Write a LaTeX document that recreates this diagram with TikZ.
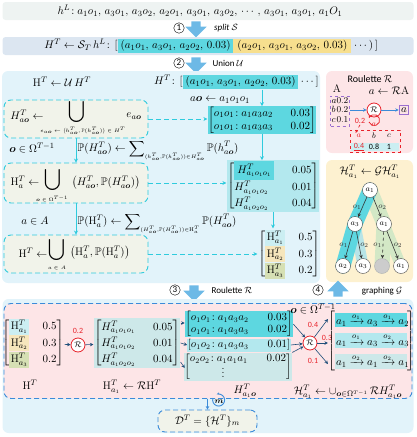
\documentclass[tikz,border=0pt]{standalone}
\usepackage{amsmath,amssymb}
\usepackage{fontspec}
\newfontfamily\calib{Carlito}
\usepackage{tikz}
\usetikzlibrary{arrows.meta, positioning, shapes.arrows, calc}

\definecolor{topgray}{HTML}{EEF3F2}
\definecolor{rowblue}{HTML}{DCE6F1}
\definecolor{secblue}{HTML}{E2F3FA}
\definecolor{dcyan}{HTML}{2FCBDD}
\definecolor{boxfill}{HTML}{F1F3EA}
\definecolor{hcyan}{HTML}{5DD7E0}
\definecolor{hcyanl}{HTML}{B3E8EE}
\definecolor{hyellow}{HTML}{F7DF8E}
\definecolor{hteal}{HTML}{CDE8E9}
\definecolor{hya}{HTML}{F6E6BC}
\definecolor{hol}{HTML}{D6E0B4}
\definecolor{hcl}{HTML}{CBEEF2}
\definecolor{rpink}{HTML}{FDE5E7}
\definecolor{ryellow}{HTML}{FDF1D0}
\definecolor{barrow}{HTML}{6DB9E6}
\definecolor{navy}{HTML}{1F4E79}
\definecolor{rred}{HTML}{E8232B}
\definecolor{purp}{HTML}{9B6FD0}
\definecolor{pblue}{HTML}{3B8BD9}
\definecolor{bandg}{HTML}{D3E8C6}

\newcommand{\vo}{\boldsymbol{o}}
\newcommand{\Pb}{\mathbb{P}}

\tikzstyle{rowbox} = [rectangle, rounded corners=3pt, minimum width=411pt, minimum height=18pt]
\tikzstyle{section} = [rectangle, rounded corners=6pt, fill=secblue]
\tikzstyle{dbox} = [rectangle, rounded corners=7pt, draw=dcyan, dashed, dash pattern=on 5pt off 3pt,
  line width=0.9pt, fill=boxfill]
\tikzstyle{bigarrow} = [single arrow, fill=barrow, minimum height=16pt, inner sep=4.5pt,
  single arrow head extend=6pt]
\tikzstyle{stepnum} = [circle, draw, inner sep=0pt, minimum size=10.5pt, font=\calib\small]
\tikzstyle{steplab} = [font=\calib\small]
\tikzstyle{tight} = [inner xsep=2.5pt, inner ysep=1.5pt, text height=8.5pt, text depth=3.2pt]
\tikzstyle{carrow} = [-{Stealth[length=4pt,width=4pt]}, dcyan, line width=0.8pt]
\tikzstyle{cdarrow} = [-{Stealth[length=4pt,width=4pt]}, dcyan, line width=0.8pt, dashed,
  dash pattern=on 5pt off 3pt]
\tikzstyle{narrow} = [-{Stealth[length=3.5pt,width=3.5pt]}, navy, line width=0.6pt]
\tikzstyle{barr} = [-{Stealth[length=3.5pt,width=3.5pt]}, pblue, line width=0.8pt]
\tikzstyle{rcirc} = [circle, draw=rred, line width=0.8pt, fill=white, inner sep=0pt,
  minimum size=14pt, font=\footnotesize]
\tikzstyle{tnode} = [circle, draw=black!70, fill=white, inner sep=0pt, minimum size=15pt,
  font=\footnotesize]
\tikzstyle{elab} = [font=\footnotesize, inner sep=1pt]
\tikzstyle{redlab} = [text=rred, font=\calib\footnotesize, inner sep=1pt]
\tikzstyle{sub} = [font=\tiny, inner sep=0pt]
\tikzstyle{bigop} = [font=\fontsize{15}{17}\selectfont, inner sep=0pt]

\begin{document}
\begin{tikzpicture}[x=1pt, y=-1pt, font=\fontsize{11}{13}\selectfont]
\useasboundingbox (0,0) rectangle (416,437);

% input sequence and split
\node[rowbox, fill=topgray] (rowL) at (208,11) {};
\node (hL) at (200,11)
  {$h^L\!: a_1o_1,\, a_3o_1,\, a_3o_2,\, a_2o_1,\, a_3o_1,\, a_3o_2,\, \cdots,\, a_3o_1,\, a_3o_1,\, a_1O_1$};
\node[bigarrow, rotate=-90] (ar1) at (196,27) {};
\node[stepnum] (s1) at (179,28) {1};
\node[steplab] (l1) at (226,28) {\itshape split $\mathcal{S}$};

\node[rowbox, fill=rowblue] (rowT) at (208,46) {};
\node[tight, anchor=east, inner xsep=0pt] (tA) at (118,46) {$H^T\leftarrow\mathcal{S}_T\, h^L\!:\, [$};
\node[tight, right=0pt of tA, fill=hcyan] (tB) {$(a_1o_1,\, a_3o_1,\, a_2o_2,\, 0.03)$};
\node[tight, right=0pt of tB, fill=hyellow, inner xsep=4pt] (tC) {$(a_2o_1,\, a_3o_1,\, a_3o_2,\, 0.03)$};
\node[tight, right=0pt of tC] (tD) {$\cdots)\,]$};
\node[bigarrow, rotate=-90] (ar2) at (196,63) {};
\node[stepnum] (s2) at (179,63) {2};
\node[steplab] (l2) at (228,63) {Union $\mathcal{U}$};

% union stage
\node[section, minimum width=318pt, minimum height=212pt] (sec2) at (161,177) {};
\node (HU) at (62,82) {$\mathrm{H}^T\leftarrow\mathcal{U}\,H^T$};
\node[tight, anchor=east, inner xsep=0pt] (hA) at (183,82) {$H^T\!:\, [$};
\node[tight, right=0pt of hA, fill=hcyan] (hB) {$(a_1o_1,\, a_3o_1,\, a_2o_2,\, 0.03)$};
\node[tight, right=0pt of hB] (hC) {$\cdots\,]$};
\node (aoeq) at (220,100) {$a\vo\leftarrow a_1o_1o_1$};

\node[dbox, minimum width=144pt, minimum height=38pt] (box1) at (76,119) {};
\node (b1a) at (27,116) {$H^T_{a\vo}\leftarrow$};
\node[bigop] (b1b) at (77,112) {$\displaystyle\bigcup$};
\node[sub] (b1c) at (83,131) {$e_{a\vo}\leftarrow\big(h^T_{a\vo},\Pb(h^T_{a\vo})\big)\in H^T$};
\node (b1d) at (134,116) {$e_{a\vo}$};

\node (oin) at (32,148) {$\vo\in\Omega^{T-1}$};
\node[anchor=west] (sum1) at (74,150) {$\Pb(H^T_{a\vo})\leftarrow\displaystyle\sum\nolimits_{\scriptscriptstyle(h^T_{a\vo},\Pb(h^T_{a\vo}))\in H^T_{a\vo}}\Pb(h^T_{a\vo})$};

\node[dbox, minimum width=144pt, minimum height=40pt] (box2) at (76,183) {};
\node (b2a) at (25,182) {$\mathrm{H}^T_a\leftarrow$};
\node[bigop] (b2b) at (53,180) {$\displaystyle\bigcup$};
\node[sub] (b2c) at (52,199) {$\vo\in\Omega^{T-1}$};
\node (b2d) at (106,183) {$\big(H^T_{a\vo},\Pb(H^T_{a\vo})\big)$};

\node (ain) at (35,221) {$a\in A$};
\node[anchor=west] (sum2) at (74,223) {$\Pb(\mathrm{H}^T_a)\leftarrow\displaystyle\sum\nolimits_{\scriptscriptstyle(H^T_{a\vo},\Pb(H^T_{a\vo}))\in \mathrm{H}^T_a}\Pb(H^T_{a\vo})$};

\node[dbox, minimum width=144pt, minimum height=38pt] (box3) at (76,254) {};
\node (b3a) at (33,253) {$\mathrm{H}^T\leftarrow$};
\node[bigop] (b3b) at (57,250) {$\displaystyle\bigcup$};
\node[sub] (b3c) at (57,268) {$a\in A$};
\node (b3d) at (100,253) {$\big(\mathrm{H}^T_a,\Pb(\mathrm{H}^T_a)\big)$};

\node[fill=hcyan, inner sep=0.5pt] (m1) at (262,120)
  {$\left[\begin{array}{@{}l@{\hspace{1.6em}}r@{}} o_1o_1\!: a_1a_3a_2 & 0.03\\ o_1o_1\!: a_1a_3a_3 & 0.02\end{array}\right]$};
\node[fill=hcyanl, inner sep=0.5pt] (m2) at (273,186)
  {\renewcommand{\arraystretch}{1.2}$\left[\begin{array}{@{}l@{\hspace{1.6em}}r@{}}
   \colorbox{hcyan}{$H^T_{a_1o_1o_1}$} & 0.05\\ H^T_{a_1o_1o_2} & 0.01\\ H^T_{a_1o_2o_2} & 0.04\end{array}\right]$};
\node[inner sep=0.5pt] (m3) at (289,254)
  {\setlength{\fboxsep}{1.5pt}\renewcommand{\arraystretch}{1.25}$\left[\begin{array}{@{}l@{\hspace{1.2em}}r@{}}
   \colorbox{hcl}{$\mathrm{H}^T_{a_1}$} & 0.5\\ \colorbox{hya}{$\mathrm{H}^T_{a_2}$} & 0.3\\
   \colorbox{hol}{$\mathrm{H}^T_{a_3}$} & 0.2\end{array}\right]$};

\draw[carrow] (m1.north |- hB.south) -- (m1.north);
\draw[carrow] (m1.south) -- (m1.south |- m2.north);
\draw[carrow] (m2.south) -- (m2.south |- m3.north);
\draw[carrow] (box1.south) -- (box2.north);
\draw[carrow] (box2.south) -- (box3.north);
\draw[cdarrow] (box1.east) -- (box1.east -| m1.west);
\draw[cdarrow] (box2.east) -- (box2.east -| m2.west);
\draw[cdarrow] (box3.east) -- (box3.east -| m3.west);

% roulette panel
\node[section, fill=rpink, minimum width=87pt, minimum height=82pt] (rpan) at (369.5,112) {};
\node[font=\calib] (rtitle) at (370,79) {Roulette $\mathcal{R}$};
\node (rA) at (337,89) {$\mathrm{A}$};
\node (rR) at (389,91) {$a\leftarrow\mathcal{R}\mathrm{A}$};
\node[draw=purp, dashed, line width=0.8pt, inner sep=1pt, font=\small] (rlist) at (340,111)
  {\renewcommand{\arraystretch}{0.85}$\begin{array}{@{}l@{}l@{}} a&0.2\\ b&0.2\\ c&0.1\end{array}$};
\node[rcirc] (rc) at (374,110) {$\mathcal{R}$};
\node[draw=purp, line width=0.8pt, inner sep=2pt] (ra) at (404,110) {$a$};
\draw[barr] (rlist.east |- rc) -- (rc);
\draw[barr] (rc) -- (ra);
\node[redlab] (r02) at (360,121) {0.2};
\node[text=rred, font=\footnotesize, inner sep=0.5pt] (rloop) at (374,125) {$a$};
\draw[rred, line width=0.8pt, -{Stealth[length=3pt]}] (369,122) arc[start angle=160, end angle=-160, radius=5.5];
\node[rectangle, draw=rred, dashed, line width=0.8pt, minimum width=50pt, minimum height=22pt] (rtab) at (375,141) {};
\fill[hcl] (351,143) rectangle (399,151);
\node[text=rred, font=\footnotesize, inner sep=1pt] (ta) at (359,136) {$a$};
\node[font=\footnotesize, inner sep=1pt] (tb) at (374,136) {$b$};
\node[font=\footnotesize, inner sep=1pt] (tc) at (389,136) {$c$};
\node[redlab] (v1) at (359,147) {\underline{0.4}};
\node[font=\calib\footnotesize, inner sep=1pt] (v2) at (374,147) {0.8};
\node[font=\calib\footnotesize, inner sep=1pt] (v3) at (389,147) {1};
\draw[rred, dashed, line width=0.7pt, -{Stealth[length=3pt]}] (r02.south) -- (ta.north west);

% graphing panel
\node[section, fill=ryellow, minimum width=87pt, minimum height=122pt] (gpan) at (369.5,221) {};
\node (gt) at (370,172) {$\mathcal{H}^T_{a_1}\leftarrow\mathcal{G}\mathcal{H}^T_{a_1}$};
\coordinate (groot) at (370,190);
\coordinate (gl) at (355,224);
\coordinate (gr) at (384,224);
\draw[bandg, line width=15pt, line cap=round, line join=round] (groot) -- (gr) -- (382,266);
\draw[bandg, line width=11pt, line cap=round] (gr) -- (401,266);
\draw[hteal!80!hcyan, line width=11pt, line cap=round] (gl) -- (363,266);
\draw[hcyan, line width=15pt, line cap=round, line join=round] (groot) -- (gl) -- (343,266);
\node[tnode] (n0) at (groot) {$a_1$};
\node[tnode] (n1) at (gl) {$a_3$};
\node[tnode] (n2) at (gr) {$a_1$};
\node[tnode] (n3) at (343,266) {$a_2$};
\node[tnode] (n4) at (363,266) {$a_3$};
\node[tnode, fill=black!20, draw=black!30] (n5) at (382,266) {};
\node[tnode] (n6) at (401,266) {$a_1$};
\draw[narrow, black!80] (n0) -- node[elab, left] {$o_1$} (n1);
\draw[narrow, black!80] (n0) -- node[elab, right] {$o_2$} (n2);
\draw[narrow, black!80] (n1) -- node[elab, left] {$o_1$} (n3);
\draw[narrow, black!80] (n1) -- node[elab, right] {$o_2$} (n4);
\draw[narrow, black!80, dashed] (n2) -- node[elab, left] {$o_1$} (n5);
\draw[narrow, black!80] (n2) -- node[elab, right] {$o_2$} (n6);

% roulette and graphing stages
\node[bigarrow, rotate=-90] (ar3) at (194,291) {};
\node[stepnum] (s3) at (175,290) {3};
\node[steplab] (l3) at (232,290) {Roulette $\mathcal{R}$};
\node[bigarrow, rotate=90] (ar4) at (338,291) {};
\node[stepnum] (s4) at (318,290) {4};
\node[steplab] (l4) at (382,291) {graphing $\mathcal{G}$};

\node[section, minimum width=411pt, minimum height=134pt] (sec3) at (208,366) {};
\node[rectangle, rounded corners=7pt, draw=pblue, dashed, dash pattern=on 5pt off 3pt, line width=0.9pt,
  fill=rpink, minimum width=408pt, minimum height=95pt] (pk) at (208,351) {};

\node[inner sep=0.5pt] (bm1) at (33,343)
  {\setlength{\fboxsep}{1.5pt}\renewcommand{\arraystretch}{1.25}$\left[\begin{array}{@{}l@{\hspace{1.2em}}r@{}}
   \colorbox{hcl}{$\mathrm{H}^T_{a_1}$} & 0.5\\ \colorbox{hya}{$\mathrm{H}^T_{a_2}$} & 0.3\\
   \colorbox{hol}{$\mathrm{H}^T_{a_3}$} & 0.2\end{array}\right]$};
\node (bl1) at (30,385) {$\mathrm{H}^T$};
\node[rcirc] (bc1) at (78,345) {$\mathcal{R}$};
\node[redlab] (bp1) at (78,331) {0.2};
\node[fill=hteal, inner sep=0.5pt] (bm2) at (137,343)
  {\renewcommand{\arraystretch}{1.25}$\left[\begin{array}{@{}l@{\hspace{1.6em}}r@{}}
   H^T_{a_1o_1o_1} & 0.05\\ H^T_{a_1o_1o_2} & 0.01\\ H^T_{a_1o_2o_2} & 0.04\end{array}\right]$};
\node (bl2) at (132,387) {$\mathrm{H}^T_{a_1}\leftarrow\mathcal{R}\mathrm{H}^T$};
\draw[narrow] (bm1) -- (bc1);
\draw[narrow] (bc1) -- (bm2);

\node[fill=hcyan, inner sep=0.5pt, font=\fontsize{10.5}{12}\selectfont] (bA) at (239,324)
  {$\left[\begin{array}{@{}l@{\hspace{1.8em}}r@{}} o_1o_1\!: a_1a_3a_2 & 0.03\\ o_1o_1\!: a_1a_3a_3 & 0.02\end{array}\right]$};
\node[fill=hcyanl, inner sep=0.5pt, font=\fontsize{10.5}{12}\selectfont] (bB) at (239,345)
  {$\left[\begin{array}{@{}l@{\hspace{1.8em}}r@{}} o_1o_2\!: a_1a_3a_3 & 0.01\end{array}\right]$};
\node[fill=hteal, inner sep=0.5pt, font=\fontsize{10.5}{12}\selectfont] (bC) at (238,367)
  {$\left[\begin{array}{@{}l@{\hspace{1.8em}}r@{}} o_2o_2\!: a_1a_1a_1 & 0.02\\[-3pt] \hfill\vdots\hspace{2.2em} & \end{array}\right]$};
\node (bl3) at (245,391) {$H^T_{a_1\vo}$};
\draw[narrow] ($(bm2.east)+(0,-20)$) -- (bA.west |- 0,323);
\draw[narrow] ($(bm2.east)+(0,0)$) -- (bB.west);
\draw[narrow] ($(bm2.east)+(0,19)$) -- (bA.west |- 0,368);

\node[rcirc] (bc2) at (310,343) {$\mathcal{R}$};
\node (oin2) at (313,309) {$\vo\in\Omega^{T-1}$};
\node[redlab] (bp4) at (313,325) {0.4};
\node[redlab] (bp3) at (327,338) {0.3};
\node[redlab] (bp5) at (313,361) {0.1};
\draw[narrow] (bA.east) -- (bc2);
\draw[narrow] (bB.east) -- (bc2);
\draw[narrow] (bC.north east) -- (bc2);

\node[inner sep=0.5pt] (bm3) at (371,341)
  {\setlength{\fboxsep}{1pt}\renewcommand{\arraystretch}{1.6}$\left[\begin{array}{@{}l@{}}
   \colorbox{hcyan}{\makebox[70pt][l]{$a_1\xrightarrow{o_1}a_3\xrightarrow{o_1}a_2$}}\\
   \colorbox{hcyanl}{\makebox[70pt][l]{$a_1\xrightarrow{o_1}a_3\xrightarrow{o_2}a_3$}}\\
   \colorbox{hteal}{\makebox[70pt][l]{$a_1\xrightarrow{o_2}a_1\xrightarrow{o_2}a_1$}}\end{array}\right]$};
\draw[narrow] (bc2) -- ($(bm3.west)+(1,-22)$);
\draw[narrow] (bc2) -- ($(bm3.west)+(1,2)$);
\draw[narrow] (bc2) -- ($(bm3.west)+(1,23)$);
\node (bl4) at (348,392) {$\mathcal{H}^T_{a_1}\leftarrow\cup_{\vo\in\Omega^{T-1}}\,\mathcal{R}H^T_{a_1\vo}$};

% collect samples
\node[dbox, draw=pblue, minimum width=99pt, minimum height=22pt] (dset) at (207.5,421) {};
\node (dtxt) at (207.5,421) {$\mathcal{D}^T=\{\mathcal{H}^T\}_m$};
\draw[barr] (pk.south -| dset.north) -- (dset.north);
\node[font=\footnotesize, inner sep=0.5pt] (mm) at (219,402) {$\boldsymbol{m}$};
\draw[pblue, line width=0.9pt, -{Stealth[length=3pt]}] (213,398) arc[start angle=200, end angle=-110, radius=6];
\end{tikzpicture}
\end{document}
